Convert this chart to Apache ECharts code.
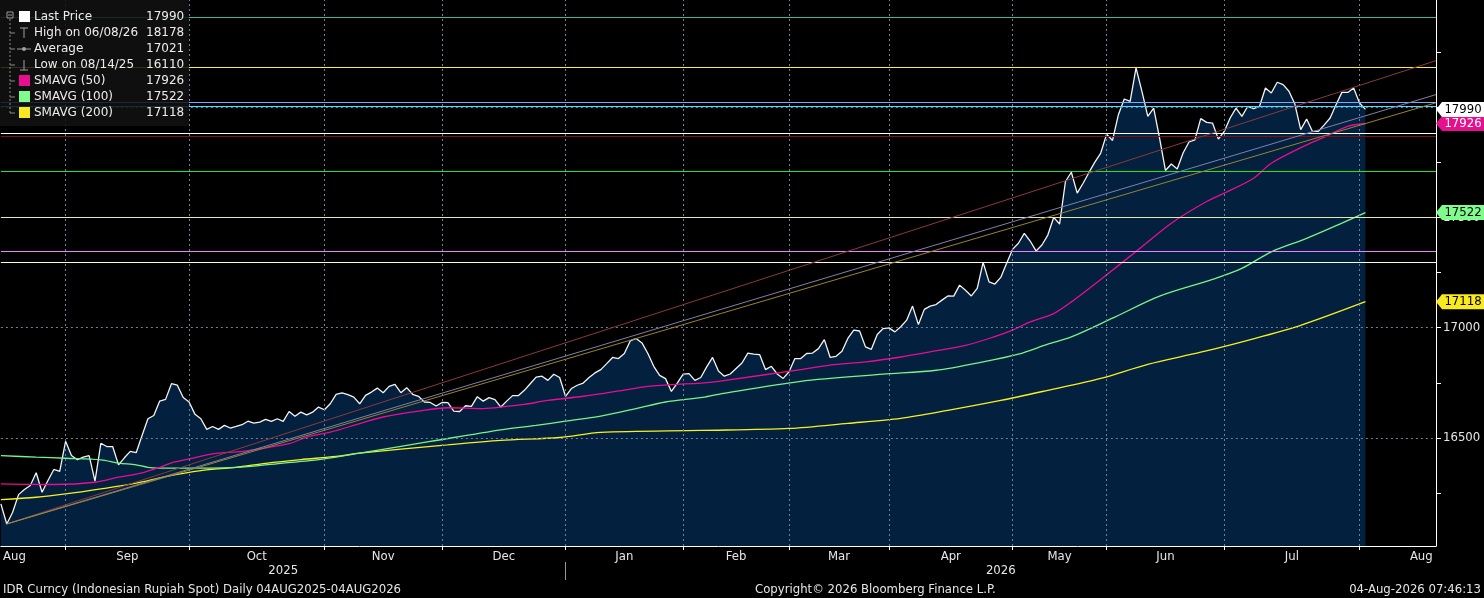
<!DOCTYPE html>
<html>
<head>
<meta charset="utf-8">
<title>IDR Curncy</title>
<script src="https://cdn.jsdelivr.net/npm/echarts@6/dist/echarts.min.js"></script>
<style>
  html, body { margin: 0; padding: 0; background: #000; }
  #chart { width: 1484px; height: 598px; }
</style>
</head>
<body>
<div id="chart"></div>
<script>
// daily closes, one per trading day (index 0 = 04 Aug 2025)
var price = [
  16201, 16110, 16163, 16243, 16266, 16284, 16342, 16254, 16307, 16357,
  16348, 16485, 16420, 16401, 16413, 16420, 16304, 16476, 16461, 16461,
  16378, 16410, 16439, 16433, 16511, 16587, 16602, 16667, 16675, 16746,
  16739, 16683, 16663, 16607, 16587, 16539, 16552, 16539, 16557, 16545,
  16552, 16560, 16576, 16567, 16572, 16584, 16575, 16587, 16575, 16620,
  16598, 16617, 16605, 16617, 16640, 16628, 16655, 16698, 16704, 16696,
  16685, 16655, 16693, 16708, 16726, 16705, 16734, 16743, 16705, 16728,
  16698, 16689, 16663, 16661, 16645, 16661, 16660, 16622, 16620, 16646,
  16643, 16687, 16667, 16683, 16674, 16640, 16667, 16692, 16692, 16716,
  16746, 16776, 16780, 16761, 16789, 16774, 16689, 16724, 16739, 16749,
  16774, 16795, 16810, 16837, 16865, 16860, 16883, 16940, 16951, 16931,
  16883, 16825, 16784, 16769, 16711, 16749, 16789, 16792, 16761, 16774,
  16822, 16865, 16804, 16780, 16790, 16815, 16840, 16885, 16880, 16878,
  16810, 16825, 16790, 16770, 16800, 16860, 16860, 16883, 16885, 16905,
  16946, 16865, 16870, 16893, 16951, 16989, 16985, 16913, 16902, 16969,
  16996, 16999, 16981, 17004, 17034, 17098, 17014, 17083, 17098, 17105,
  17125, 17144, 17143, 17193, 17170, 17144, 17178, 17296, 17208, 17198,
  17228, 17292, 17355, 17383, 17428, 17393, 17348, 17375, 17420, 17500,
  17470, 17663, 17705, 17610, 17655, 17704, 17751, 17792, 17878, 17849,
  17966, 18037, 18026, 18178, 18072, 17958, 17996, 17860, 17713, 17742,
  17720, 17792, 17842, 17852, 17948, 17931, 17928, 17855, 17890, 17951,
  17996, 17958, 18004, 17993, 18004, 18087, 18064, 18113, 18102, 18072,
  18014, 17898, 17946, 17890, 17890, 17920, 17951, 18011, 18067, 18067,
  18087, 18019, 17990
];

// moving averages read at [day index, value]
var sma50 = [
  [0, 16292], [9, 16289], [16, 16299], [20, 16322], [24, 16342], [27, 16367], [29, 16387],
  [32, 16405], [36, 16428], [41, 16439], [44, 16451], [49, 16474], [52, 16504], [56, 16526],
  [61, 16565], [65, 16595], [71, 16622], [76, 16637], [82, 16633], [86, 16643], [89, 16652],
  [93, 16670], [99, 16689], [105, 16713], [110, 16734], [114, 16742], [119, 16749], [122, 16757],
  [136, 16810], [141, 16830], [147, 16845], [153, 16867], [158, 16890], [164, 16920], [168, 16951],
  [172, 16989], [175, 17026], [179, 17064], [182, 17117], [187, 17219], [194, 17367], [199, 17474],
  [205, 17572], [208, 17610], [213, 17678], [216, 17746], [222, 17829], [225, 17864], [229, 17913],
  [232, 17926]
];
var sma100 = [
  [0, 16420], [6, 16413], [11, 16408], [17, 16401], [20, 16386], [23, 16378], [25, 16367],
  [29, 16363], [34, 16363], [39, 16365], [43, 16372], [48, 16386], [53, 16398], [57, 16413],
  [61, 16431], [73, 16484], [85, 16537], [91, 16557], [96, 16576], [102, 16599], [108, 16633],
  [113, 16663], [119, 16683], [122, 16698], [136, 16757], [150, 16789], [159, 16807], [167, 16845],
  [173, 16880], [178, 16925], [182, 16958], [189, 17043], [197, 17143], [206, 17219], [211, 17269],
  [216, 17344], [222, 17405], [228, 17474], [232, 17522]
];
var sma200 = [
  [0, 16220], [6, 16231], [11, 16246], [17, 16269], [23, 16295], [28, 16325], [34, 16352],
  [40, 16367], [45, 16385], [51, 16402], [57, 16416], [61, 16431], [75, 16466], [85, 16489],
  [95, 16502], [102, 16525], [119, 16534], [134, 16543], [144, 16566], [153, 16589], [161, 16625],
  [170, 16670], [178, 16716], [187, 16770], [195, 16834], [204, 16889], [212, 16943], [221, 17011],
  [232, 17118]
];

// drawn horizontal levels and trend lines
var levels = [18407, 18179, 18023, 18005, 17884, 17870, 17711, 17502, 17348, 17298];
var trendLines = [
  [1, 16110, 244, 18211],
  [1, 16110, 244, 18057],
  [1, 16110, 244, 18020]
];

// axes
var xMax = 244;
var monthTicks = [11, 32, 55, 75, 96, 116, 134, 151, 172, 188, 208, 231];
var monthNames = ['Aug', 'Sep', 'Oct', 'Nov', 'Dec', 'Jan', 'Feb', 'Mar', 'Apr', 'May', 'Jun', 'Jul', 'Aug'];
var monthLabelPos = [2.3, 21.5, 43.5, 65, 85.5, 106, 125, 142.5, 161.5, 180, 198, 219.5, 241.5];
var years = [['2025', 0, 96], ['2026', 96, 244]];
var yTicks = [16250, 16500, 16750, 17000, 17250, 17500, 17750, 18000, 18250];
var yLabels = [16500, 17000, 17500, 18000];
var gridValues = [16500, 17000, 17500, 18000];

// legend
var legendNames = ['Last Price', 'High on 06/08/26', 'Average', 'Low on 08/14/25',
  'SMAVG (50)', 'SMAVG (100)', 'SMAVG (200)'];
var legendValues = [17990, 18178, 17021, 16110, 17926, 17522, 17118];

var FONT_C = '"DejaVu Sans Condensed", "Liberation Sans Narrow", sans-serif';
var FONT_L = '"DejaVu Sans", Verdana, sans-serif';

var levelColors = ['#3fb896', '#fff02a', '#80a8ff', '#3ee4ff', '#ffffff', '#801010',
  '#22e622', '#e8e8a8', '#f080ff', '#fafae0'];
var trendColors = ['#8a3a3a', '#8080a8', '#988430'];

var markData = [];
monthTicks.forEach(function (t) {
  markData.push({xAxis: t, lineStyle: {color: '#71819a', type: [2, 3], width: 1}});
});
gridValues.forEach(function (v) {
  markData.push({yAxis: v, lineStyle: {color: '#71819a', type: [2, 3], width: 1}});
});
levels.forEach(function (v, i) {
  markData.push({yAxis: v, lineStyle: {color: levelColors[i], type: 'solid', width: 1.2}});
});
trendLines.forEach(function (t, i) {
  markData.push([
    {coord: [t[0], t[1]], lineStyle: {color: trendColors[i], type: 'solid', width: 1}},
    {coord: [t[2], t[3]]}
  ]);
});

function tag(name, value, bg, fg) {
  return {
    name: name,
    type: 'scatter',
    z: 10,
    clip: false,
    silent: true,
    data: [[xMax, value]],
    symbol: 'path://M0,7L6,0L48,0L48,14L6,14Z',
    symbolSize: [48, 15],
    symbolOffset: [24, 0],
    itemStyle: {color: bg, opacity: 1},
    label: {
      show: true,
      position: 'inside',
      offset: [3, 0],
      formatter: function (p) { return p.value[1]; },
      color: fg,
      fontSize: 13,
      fontFamily: FONT_C
    }
  };
}

var option = {
  backgroundColor: '#000',
  animation: false,
  grid: {left: 0, right: 48, top: 0, bottom: 52},
  xAxis: {
    type: 'value',
    min: 0,
    max: xMax,
    z: 6,
    axisLine: {show: true, onZero: false, lineStyle: {color: '#ffffff', width: 1}},
    axisTick: {show: true, length: 4, customValues: monthTicks, lineStyle: {color: '#ffffff'}},
    axisLabel: {
      customValues: monthLabelPos,
      formatter: function (v) { return monthNames[monthLabelPos.indexOf(v)]; },
      color: '#e6e6e6',
      fontSize: 13,
      fontFamily: FONT_C,
      margin: 4
    },
    splitLine: {show: false}
  },
  yAxis: {
    type: 'value',
    position: 'right',
    min: 16010,
    max: 18486,
    z: 6,
    axisLine: {show: true, onZero: false, lineStyle: {color: '#ffffff', width: 1}},
    axisTick: {show: true, length: 5, customValues: yTicks, lineStyle: {color: '#ffffff'}},
    axisLabel: {
      customValues: yLabels,
      formatter: function (v) { return String(v); },
      color: '#e6e6e6',
      fontSize: 13,
      fontFamily: FONT_C,
      margin: 7
    },
    splitLine: {show: false}
  },
  series: [
    {
      name: 'Last Price',
      type: 'line',
      z: 2,
      data: price.map(function (v, i) { return [i, v]; }),
      symbol: 'none',
      lineStyle: {color: '#f4f4f4', width: 1.3},
      areaStyle: {color: '#03203e', opacity: 1, origin: 'start'},
      markLine: {
        silent: true,
        symbol: ['none', 'none'],
        label: {show: false},
        data: markData
      }
    },
    {
      name: 'SMAVG (200)', type: 'line', z: 3, data: sma200, symbol: 'none', smooth: 0.3,
      lineStyle: {color: '#f8f020', width: 1.3}
    },
    {
      name: 'SMAVG (100)', type: 'line', z: 3, data: sma100, symbol: 'none', smooth: 0.3,
      lineStyle: {color: '#78f488', width: 1.3}
    },
    {
      name: 'SMAVG (50)', type: 'line', z: 3, data: sma50, symbol: 'none', smooth: 0.3,
      lineStyle: {color: '#ea0c94', width: 1.3}
    },
    tag('tag200', sma200[sma200.length - 1][1], '#f8ea1e', '#000'),
    tag('tag100', sma100[sma100.length - 1][1], '#7efc8c', '#000'),
    tag('tag50', sma50[sma50.length - 1][1], '#e6108e', '#fff'),
    tag('tagLast', price[price.length - 1], '#ffffff', '#000')
  ]
};

var chart = echarts.init(document.getElementById('chart'));
chart.setOption(option);

// legend box, year captions and footer
var g = [];
g.push({type: 'rect', shape: {x: 0, y: 0, width: 189, height: 126},
  style: {fill: 'rgba(18,18,18,0.86)'}, z: 20});
g.push({type: 'rect', shape: {x: 7, y: 12, width: 6, height: 6},
  style: {fill: 'none', stroke: '#9a9a9a', lineWidth: 1}, z: 21});
g.push({type: 'line', shape: {x1: 8, y1: 15, x2: 12, y2: 15}, style: {stroke: '#9a9a9a'}, z: 21});
g.push({type: 'line', shape: {x1: 10, y1: 19, x2: 10, y2: 114},
  style: {stroke: '#8a8a8a', lineDash: [2, 2]}, z: 21});
var iconColors = ['#ffffff', null, null, null, '#e6108e', '#7efc8c', '#f8ea1e'];
legendNames.forEach(function (name, i) {
  var y = 17 + i * 16;
  if (i > 0) {
    g.push({type: 'line', shape: {x1: 10, y1: y, x2: 15, y2: y}, style: {stroke: '#8a8a8a'}, z: 21});
  }
  if (iconColors[i]) {
    g.push({type: 'rect', shape: {x: 19, y: y - 6, width: 11, height: 11},
      style: {fill: iconColors[i]}, z: 21});
  } else if (i === 1) {
    g.push({type: 'line', shape: {x1: 24, y1: y - 5, x2: 24, y2: y + 5}, style: {stroke: '#a0a0a0'}, z: 21});
    g.push({type: 'line', shape: {x1: 20, y1: y - 5, x2: 28, y2: y - 5}, style: {stroke: '#a0a0a0'}, z: 21});
  } else if (i === 2) {
    g.push({type: 'line', shape: {x1: 17, y1: y, x2: 31, y2: y}, style: {stroke: '#a0a0a0'}, z: 21});
    g.push({type: 'circle', shape: {cx: 24, cy: y, r: 2}, style: {fill: '#a0a0a0'}, z: 21});
  } else if (i === 3) {
    g.push({type: 'line', shape: {x1: 24, y1: y - 5, x2: 24, y2: y + 5}, style: {stroke: '#a0a0a0'}, z: 21});
    g.push({type: 'line', shape: {x1: 20, y1: y + 5, x2: 28, y2: y + 5}, style: {stroke: '#a0a0a0'}, z: 21});
  }
  g.push({type: 'text', x: 34, y: y, z: 21, style: {text: name, fill: '#ececec',
    font: '12px ' + FONT_L, textVerticalAlign: 'middle'}});
  g.push({type: 'text', x: 146, y: y, z: 21, style: {text: String(legendValues[i]), fill: '#ececec',
    font: '12px ' + FONT_L, textVerticalAlign: 'middle'}});
});

years.forEach(function (yr) {
  var xa = chart.convertToPixel({xAxisIndex: 0}, yr[1]);
  var xb = chart.convertToPixel({xAxisIndex: 0}, yr[2]);
  g.push({type: 'text', x: (xa + xb) / 2, y: 571, z: 21, style: {text: yr[0], fill: '#e6e6e6',
    font: '13px ' + FONT_C, textAlign: 'center', textVerticalAlign: 'middle'}});
});
var xSep = chart.convertToPixel({xAxisIndex: 0}, years[1][1]);
g.push({type: 'line', shape: {x1: xSep, y1: 562, x2: xSep, y2: 580}, style: {stroke: '#9a9a9a'}, z: 21});

g.push({type: 'text', x: 3, y: 590, z: 21, style: {
  text: 'IDR Curncy (Indonesian Rupiah Spot) Daily 04AUG2025-04AUG2026',
  fill: '#e6e6e6', font: '13px ' + FONT_C, textVerticalAlign: 'middle'}});
g.push({type: 'text', x: 755, y: 590, z: 21, style: {
  text: 'Copyright\u00a9 2026 Bloomberg Finance L.P.',
  fill: '#e6e6e6', font: '13px ' + FONT_C, textVerticalAlign: 'middle'}});
g.push({type: 'text', x: 1481, y: 590, z: 21, style: {
  text: '04-Aug-2026 07:46:13',
  fill: '#e6e6e6', font: '13px ' + FONT_C, textAlign: 'right', textVerticalAlign: 'middle'}});

chart.setOption({graphic: g});
</script>
</body>
</html>
